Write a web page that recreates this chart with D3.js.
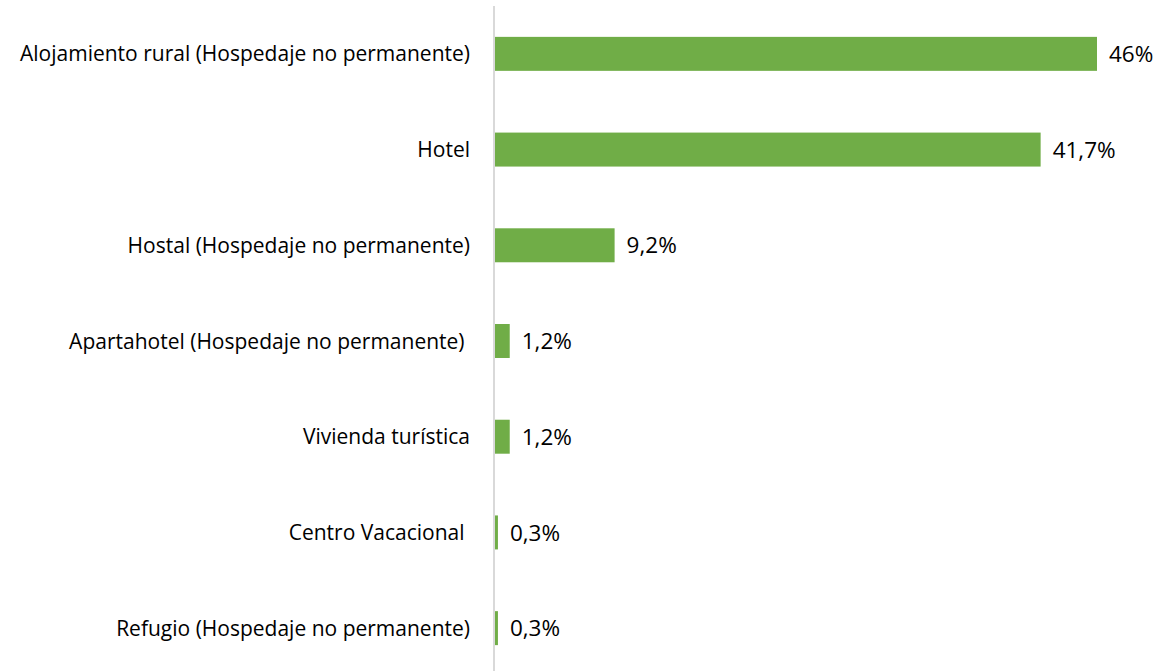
<!DOCTYPE html>
<html>
<head>
<meta charset="utf-8">
<script src="https://cdn.jsdelivr.net/npm/d3@7"></script>
<style>
  body { margin: 0; background: #fff; }
  text { font-family: "Open Sans", sans-serif; fill: #000; white-space: pre; }
</style>
</head>
<body>
<svg class="bars" width="1161" height="671"></svg>
<script>
// categories, top to bottom
const categories = [
  'Alojamiento rural (Hospedaje no permanente)',
  'Hotel',
  'Hostal (Hospedaje no permanente)',
  'Apartahotel (Hospedaje no permanente) ',
  'Vivienda turística',
  'Centro Vacacional ',
  'Refugio (Hospedaje no permanente)'
];
const values = [46, 41.7, 9.2, 1.2, 1.2, 0.3, 0.3];
const valueLabels = ['46%', '41,7%', '9,2%', '1,2%', '1,2%', '0,3%', '0,3%'];

const data = categories.map((c, i) => ({ cat: c, val: values[i], lab: valueLabels[i] }));

const width = 1161;
const height = 671;
const axisX = 494;

const x = d3.scaleLinear()
            .domain([0, 46])
            .range([axisX, 1097]);

const y = d3.scaleBand()
            .domain(categories)
            .range([6, 676])
            .paddingInner(0.645)
            .paddingOuter(0.3225);

const svg = d3.select('svg.bars');

// bars
svg.selectAll('rect.bar')
  .data(data)
  .enter()
  .append('rect')
    .attr('class', 'bar')
    .attr('x', x(0))
    .attr('y', d => y(d.cat))
    .attr('width', d => x(d.val) - x(0))
    .attr('height', y.bandwidth())
    .attr('fill', '#70ad47');

// vertical axis line
svg.append('line')
  .attr('x1', axisX).attr('x2', axisX)
  .attr('y1', 6).attr('y2', height)
  .attr('stroke', '#d9d9d9')
  .attr('stroke-width', 2);

// category labels
svg.selectAll('text.cat')
  .data(data)
  .enter()
  .append('text')
    .attr('class', 'cat')
    .attr('x', axisX - 24)
    .attr('y', d => y(d.cat) + y.bandwidth() / 2)
    .attr('dy', '0.36em')
    .style('text-anchor', 'end')
    .style('font-size', '21px')
    .text(d => d.cat);

// value labels
svg.selectAll('text.val')
  .data(data)
  .enter()
  .append('text')
    .attr('class', 'val')
    .attr('x', d => x(d.val) + 12)
    .attr('y', d => y(d.cat) + y.bandwidth() / 2)
    .attr('dy', '0.36em')
    .style('font-size', '22.5px')
    .text(d => d.lab);
</script>
</body>
</html>
